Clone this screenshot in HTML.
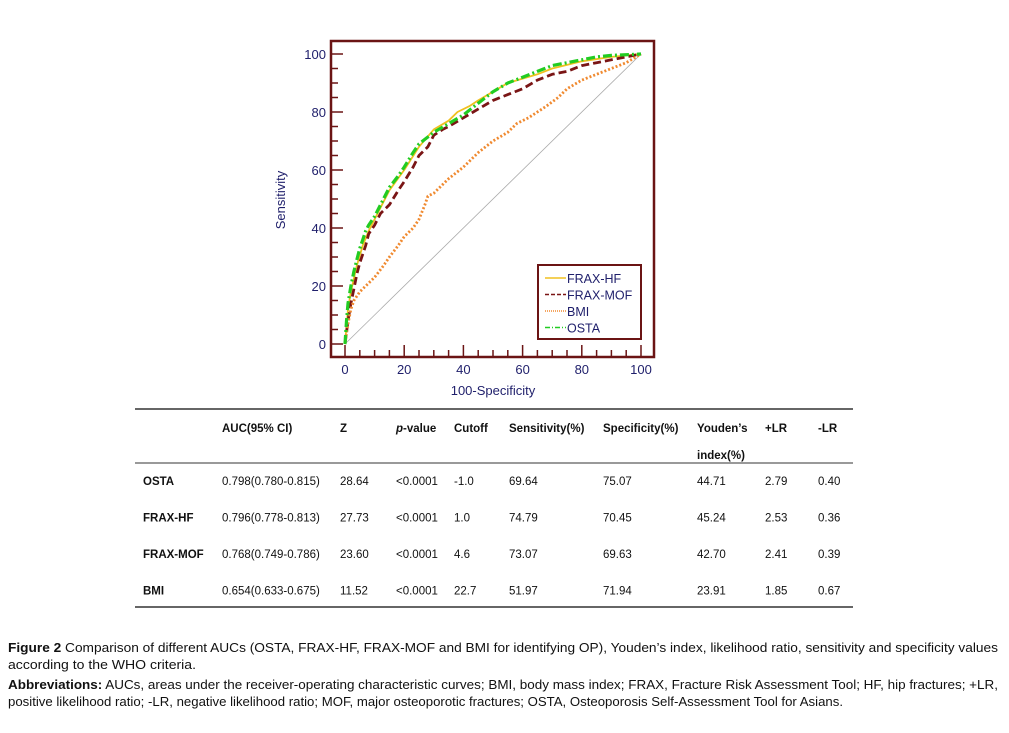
<!DOCTYPE html>
<html><head><meta charset="utf-8"><style>
html,body{margin:0;padding:0;background:#fff;}
svg{display:block;font-family:"Liberation Sans",Arial,sans-serif;}
</style></head><body>
<svg id="fig" width="1009" height="733" viewBox="0 0 1009 733">
<g id="chart"></g>
<g id="table" font-size="11.5" fill="#111"></g>
<g font-size="12.5" fill="#111">
<text x="8" y="652" textLength="990" lengthAdjust="spacingAndGlyphs"><tspan font-weight="bold">Figure 2</tspan> Comparison of different AUCs (OSTA, FRAX-HF, FRAX-MOF and BMI for identifying OP), Youden’s index, likelihood ratio, sensitivity and specificity values</text>
<text x="8" y="669" textLength="188" lengthAdjust="spacingAndGlyphs">according to the WHO criteria.</text>
<text x="8" y="689" textLength="990" lengthAdjust="spacingAndGlyphs"><tspan font-weight="bold">Abbreviations:</tspan> AUCs, areas under the receiver-operating characteristic curves; BMI, body mass index; FRAX, Fracture Risk Assessment Tool; HF, hip fractures; +LR,</text>
<text x="8" y="706" textLength="835" lengthAdjust="spacingAndGlyphs">positive likelihood ratio; -LR, negative likelihood ratio; MOF, major osteoporotic fractures; OSTA, Osteoporosis Self-Assessment Tool for Asians.</text>
</g>
</svg>
<script>
const xTicks=[0,20,40,60,80,100];
const yTicks=[0,20,40,60,80,100];
const seriesNames=["FRAX-HF","FRAX-MOF","BMI","OSTA"];
const hfX=[0,1,2,4,6,8,10,12,15,20,25,30,35,38,42,45,50,55,60,65,70,80,90,100];
const hfY=[0,12,18,27,34,39,43,47,53,60,68,74,77,80,82,84,87,90,91.5,93,95,97.5,99,100];
const mofX=[0,1,2,3,4,5,6,7,8,10,12,15,18,20,23,25,28,30,33,35,40,45,50,55,60,65,70,75,80,85,90,95,100];
const mofY=[0,8,14,19,24,28,31,34,38,41,45,48,53,56,61,65,68,72,74,75,78,81,84,86,88,91,93,94,96,97,98,99,100];
const bmiX=[0,1,2,3,5,7,10,13,15,18,20,23,25,27,28,30,33,35,40,43,45,50,55,58,62,65,68,72,75,80,85,90,95,100];
const bmiY=[0,7,12,15,18,20,23,27,30,34,37,40,43,48,51,52,55,57,61,64,66,70,73,76,78,80,82,85,88,91,93,95,97,100];
const ostaX=[0,0.5,1,2,3,4,5,6,7,8,10,12,15,18,20,23,25,30,35,40,45,50,55,60,65,70,75,80,85,90,100];
const ostaY=[0,8,14,20,25,29,33,36,39,41,44,48,54,58,61,66,69,73,76,79,83,87,90,92,94,96,97,98,99,99.5,100];

const NS="http://www.w3.org/2000/svg";
const X0=345,X1=641,Y0=344,Y1=54;
const sx=v=>X0+(X1-X0)*v/100;
const sy=v=>Y0-(Y0-Y1)*v/100;
function mk(p,tag,attrs){const e=document.createElementNS(NS,tag);for(const k in attrs)e.setAttribute(k,attrs[k]);p.appendChild(e);return e;}
const chart=document.getElementById('chart');
const axisCol="#1f1f6b", frameCol="#6b1414";

// frame
const frame=mk(chart,'rect',{x:331,y:41,width:323,height:316,fill:'none',stroke:frameCol,'stroke-width':2.5});


// minor/major ticks
for(let v=0;v<=100;v+=5){
  const major=v%20===0;
  const t=mk(chart,'line',{x1:331,x2:331+(major?12:7),y1:sy(v),y2:sy(v),stroke:frameCol,'stroke-width':1.5});
  
  
  const u=mk(chart,'line',{x1:sx(v),x2:sx(v),y1:357,y2:357-(major?12:7),stroke:frameCol,'stroke-width':1.5});
  
  
}
yTicks.forEach(v=>{
  const t=mk(chart,'text',{x:326,y:sy(v)+5,'text-anchor':'end','font-size':13,fill:axisCol});
  t.textContent=v;
  
  
});
xTicks.forEach(v=>{
  const t=mk(chart,'text',{x:sx(v),y:374,'text-anchor':'middle','font-size':13,fill:axisCol});
  t.textContent=v;
  
  
});
const xt=mk(chart,'text',{x:493,y:395,'text-anchor':'middle','font-size':13,fill:axisCol});
xt.textContent="100-Specificity";


const yt=mk(chart,'text',{x:285,y:200,'text-anchor':'middle','font-size':13,fill:axisCol,transform:'rotate(-90 285 200)'});
yt.textContent="Sensitivity";


// diagonal
const dg=mk(chart,'line',{x1:sx(0),y1:sy(0),x2:sx(100),y2:sy(100),stroke:'#aaa','stroke-width':0.8});



const styles=[
 {xs:hfX,ys:hfY,c:'#f0c020',w:1.8,d:'',n:'frax-hf-curve'},
 {xs:mofX,ys:mofY,c:'#7a1515',w:2.8,d:'8 4',n:'frax-mof-curve'},
 {xs:bmiX,ys:bmiY,c:'#f08a30',w:2.8,d:'2 2',n:'bmi-curve'},
 {xs:ostaX,ys:ostaY,c:'#22cc22',w:3.2,d:'9 3 2 3',n:'osta-curve'}
];
styles.forEach(s=>{
  const pts=s.xs.map((x,i)=>sx(x).toFixed(1)+','+sy(s.ys[i]).toFixed(1)).join(' ');
  const p=mk(chart,'polyline',{points:pts,fill:'none',stroke:s.c,'stroke-width':s.w,'stroke-dasharray':s.d,'stroke-linejoin':'round'});
  
  
});
// legend
const lg=mk(chart,'g',{});


mk(lg,'rect',{x:538,y:265,width:103,height:74,fill:'#fff',stroke:frameCol,'stroke-width':2});
seriesNames.forEach((n,i)=>{
  const s=styles[i];const y=278+i*16.5;
  mk(lg,'line',{x1:545,x2:566,y1:y,y2:y,stroke:s.c,'stroke-width':1.6,'stroke-dasharray':s.d?(i===2?'1 1':i===1?'4 2':'5 2 1 2'):''});
  const t=mk(lg,'text',{x:567,y:y+5,'font-size':12.5,fill:axisCol});
  t.textContent=n;
  
  
});

// table
const tb=document.getElementById('table');
const cols=[143,222,340,396,454,509,603,697,765,818];
const header=["","AUC(95% CI)","Z","p-value","Cutoff","Sensitivity(%)","Specificity(%)","Youden’s","+LR","-LR"];
const rows=[
 ["OSTA","0.798(0.780-0.815)","28.64","<0.0001","-1.0","69.64","75.07","44.71","2.79","0.40"],
 ["FRAX-HF","0.796(0.778-0.813)","27.73","<0.0001","1.0","74.79","70.45","45.24","2.53","0.36"],
 ["FRAX-MOF","0.768(0.749-0.786)","23.60","<0.0001","4.6","73.07","69.63","42.70","2.41","0.39"],
 ["BMI","0.654(0.633-0.675)","11.52","<0.0001","22.7","51.97","71.94","23.91","1.85","0.67"]
];
[[409,1.5],[463,1],[607,1.5]].forEach(([y,w])=>{
  const l=mk(tb,'line',{x1:135,x2:853,y1:y,y2:y,stroke:'#333','stroke-width':w});
  
  
});
header.forEach((h,i)=>{
  if(!h)return;
  const t=mk(tb,'text',{x:cols[i],y:432,'font-weight':'bold'});
  if(h==="p-value"){const a=mk(t,'tspan',{'font-style':'italic'});a.textContent="p";const b=mk(t,'tspan',{});b.textContent="-value";}
  else t.textContent=h;
  
  
});
const ix=mk(tb,'text',{x:697,y:459,'font-weight':'bold'});ix.textContent="index(%)";


rows.forEach((r,ri)=>{
  const y=485+ri*36.5;
  r.forEach((v,ci)=>{
    const t=mk(tb,'text',{x:cols[ci],y:y,'font-weight':ci===0?'bold':'normal'});
    t.textContent=v;
    
    
  });
});
</script>
</body></html>
